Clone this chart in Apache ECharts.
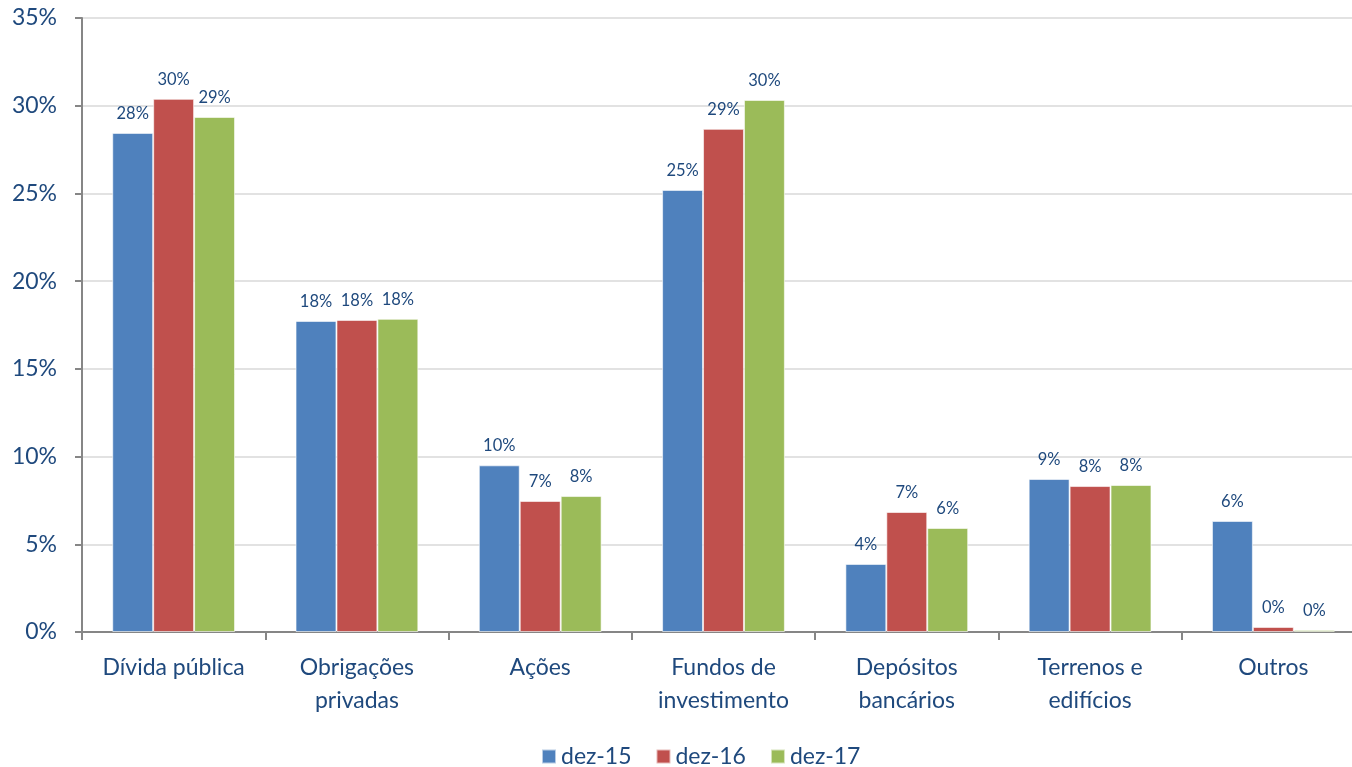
<!DOCTYPE html>
<html><head><meta charset="utf-8">
<script src="https://cdn.jsdelivr.net/npm/echarts@6/dist/echarts.min.js"></script>
<style>html,body{margin:0;padding:0;background:#fff;overflow:hidden}#c{width:1366px;height:767px}</style>
</head><body><div id="c"></div>
<script>
const categories = ['Dívida pública', 'Obrigações\nprivadas', 'Ações', 'Fundos de\ninvestimento', 'Depósitos\nbancários', 'Terrenos e\nedifícios', 'Outros'];
const seriesNames = ['dez-15', 'dez-16', 'dez-17'];
const dez15 = [28.45, 17.73, 9.5, 25.2, 3.88, 8.72, 6.33];
const dez16 = [30.39, 17.79, 7.47, 28.68, 6.84, 8.32, 0.29];
const dez17 = [29.36, 17.85, 7.75, 30.33, 5.93, 8.38, 0.12];
const yTicks = [0, 5, 10, 15, 20, 25, 30, 35];

const colors = ['#4f81bd', '#c0504d', '#9bbb59'];
const textColor = '#1f497d';
const font = 'Lato, "Open Sans", sans-serif';
const data = [dez15, dez16, dez17];

const chart = echarts.init(document.getElementById('c'));
chart.setOption({
  animation: false,
  textStyle: {fontFamily: font},
  grid: {left: 82, top: 18, right: 1, bottom: 135, containLabel: false},
  legend: {
    top: 740, left: 536, itemWidth: 14, itemHeight: 14, itemGap: 24, icon: 'rect',
    textStyle: {fontSize: 23, color: textColor, fontFamily: font},
    data: seriesNames
  },
  xAxis: {
    type: 'category', data: categories,
    axisLine: {lineStyle: {color: '#868686', width: 2}},
    axisTick: {show: true, alignWithLabel: false, length: 8, lineStyle: {color: '#868686', width: 2}},
    axisLabel: {fontSize: 23, color: textColor, margin: 19, lineHeight: 33, interval: 0, fontFamily: font}
  },
  yAxis: {
    type: 'value', min: yTicks[0], max: yTicks[yTicks.length - 1], interval: 5,
    axisLine: {show: true, lineStyle: {color: '#868686', width: 2}},
    axisTick: {show: true, length: 7, lineStyle: {color: '#868686', width: 2}},
    splitLine: {lineStyle: {color: '#d9d9d9', width: 1.5}},
    axisLabel: {formatter: '{value}%', fontSize: 23, color: textColor, margin: 25, fontFamily: font}
  },
  series: seriesNames.map((n, i) => ({
    name: n, type: 'bar', data: data[i],
    barGap: '0%', barCategoryGap: '33%',
    itemStyle: {color: colors[i], borderColor: 'rgba(255,255,255,0.6)', borderWidth: 1},
    label: {
      show: true, position: 'top', distance: 11, fontSize: 16.5, color: textColor, fontFamily: font,
      formatter: p => Math.round(p.value) + '%'
    }
  }))
});
</script></body></html>
